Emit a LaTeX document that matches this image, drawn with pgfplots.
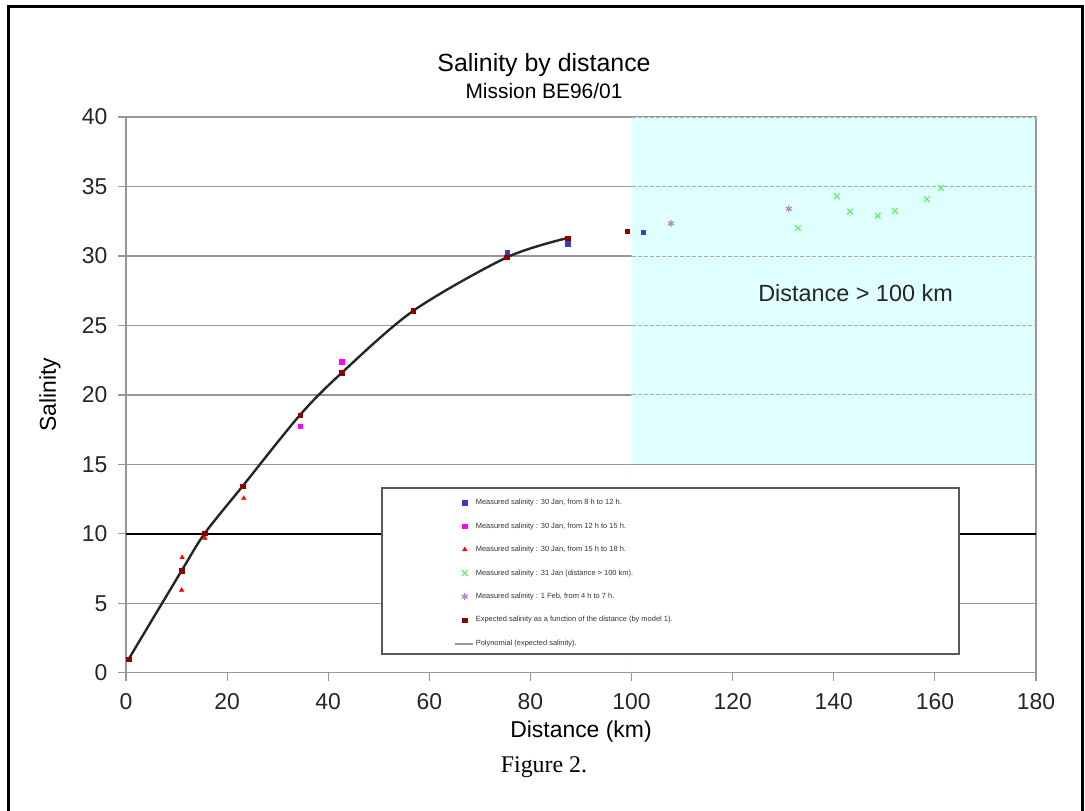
\documentclass[border=0pt]{standalone}
\usepackage{fontspec}
\setmainfont{Liberation Sans}
\newfontfamily\timesfont{Liberation Serif}
\usepackage{pgfplots}
\pgfplotsset{compat=1.18}

\definecolor{gridgray}{RGB}{150,150,150}
\definecolor{cyanbg}{RGB}{224,255,255}
\definecolor{serA}{RGB}{60,60,190}
\definecolor{serB}{RGB}{255,0,255}
\definecolor{serC}{RGB}{255,0,0}
\definecolor{serD}{RGB}{100,240,100}
\definecolor{serE}{RGB}{180,130,210}
\definecolor{serF}{RGB}{140,0,0}

\begin{document}
\begin{tikzpicture}
\useasboundingbox (0,0) rectangle (1085bp,811bp);
\fill[white] (0,0) rectangle (1085bp,811bp);
\draw[line width=3bp] (8.5bp,0) -- (8.5bp,804.5bp) -- (1082.5bp,804.5bp) -- (1082.5bp,0);
\node[font=\fontsize{25}{30}\selectfont] at (544bp,746bp) {Salinity by distance};
\node[font=\fontsize{21}{25}\selectfont] at (544bp,720bp) {Mission BE96/01};
\node[font=\fontsize{23}{27}\selectfont] at (581bp,79bp) {Distance (km)};
\node[font=\fontsize{23}{27}\selectfont, rotate=90] at (50bp,416bp) {Salinity};
\node[font=\timesfont\fontsize{24}{28}\selectfont] at (544bp,44bp) {Figure 2.};
\begin{axis}[
  at={(126bp,138.2bp)}, anchor=south west,
  scale only axis, width=910bp, height=555.7bp,
  xmin=0, xmax=180, ymin=0, ymax=40,
  xtick={0,20,...,180}, ytick={0,5,...,40},
  ymajorgrids, major grid style={gridgray, line width=1.3bp},
  axis line style={gridgray, line width=1.3bp},
  tick style={gridgray, line width=1.2bp},
  tick align=outside, major tick length=8bp,
  xtick pos=left, ytick pos=left,
  tick label style={font=\fontsize{23}{27}\selectfont, text=black!85},
  xticklabel style={yshift=-9bp},
  yticklabel style={xshift=-7bp},
  /pgf/number format/assume math mode=true,
  legend style={at={(axis cs:64.8,12.66)}, anchor=north west, inner sep=0pt,
    draw=none, fill=none, row sep=12.6bp, font=\fontsize{7.5}{9}\selectfont,
    text=black!80},
  legend cell align=left,
  legend image code/.code={\draw[mark repeat=2,mark phase=2,#1] plot coordinates {(0bp,0bp)(4bp,0bp)(8bp,0bp)};},
]
% shaded region beyond 100 km
\addplot[draw=none, fill=cyanbg, forget plot] coordinates {(100,15) (180,15) (180,40) (100,40)} \closedcycle;
\addplot[gridgray, line width=1.3bp, forget plot] coordinates {(100,15) (180,15)};
\addplot[gridgray, line width=1.3bp, forget plot] coordinates {(180,15) (180,40)};
\addplot[gridgray!80, line width=1bp, dash pattern=on 4bp off 2bp, forget plot] coordinates {(100,20) (180,20)};
\addplot[gridgray!80, line width=1bp, dash pattern=on 4bp off 2bp, forget plot] coordinates {(100,25) (180,25)};
\addplot[gridgray!80, line width=1bp, dash pattern=on 4bp off 2bp, forget plot] coordinates {(100,30) (180,30)};
\addplot[gridgray!80, line width=1bp, dash pattern=on 4bp off 2bp, forget plot] coordinates {(100,35) (180,35)};
\addplot[gridgray!80, line width=1bp, dash pattern=on 4bp off 2bp, forget plot] coordinates {(100,40) (180,40)};
% black reference line at 10
\addplot[black, line width=1.5bp, forget plot] coordinates {(0,10) (180,10)};
% polynomial trend (expected salinity)
\addplot[black!85, line width=2.4bp, smooth, tension=0.5, forget plot] coordinates {
 (0.5,0.97) (11.0,7.35) (15.6,10.05) (23.1,13.45) (34.4,18.55) (42.7,21.6) (56.8,26.05) (75.3,29.9) (87.4,31.3)};
% measured series
\addplot[only marks, mark=square*, mark size=2.2bp, color=serA] coordinates {(75.4,30.25) (87.4,30.9) (102.3,31.7)};
\addlegendentry{Measured salinity : 30 Jan, from 8 h to 12 h.}
\addplot[only marks, mark=square*, mark size=2.2bp, color=serB] coordinates {(34.4,17.75) (42.7,22.4)};
\addlegendentry{Measured salinity : 30 Jan, from 12 h to 15 h.}
\addplot[only marks, mark=triangle*, mark size=2.6bp, color=serC] coordinates {(11.1,8.3) (11.0,5.95) (15.6,9.7) (23.3,12.55)};
\addlegendentry{Measured salinity : 30 Jan, from 15 h to 18 h.}
\addplot[only marks, mark=x, mark size=4bp, line width=1.2bp, color=serD] coordinates {(132.9,32.0) (140.6,34.3) (143.2,33.2) (148.7,32.9) (152.1,33.25) (158.4,34.1) (161.2,34.9)};
\addlegendentry{Measured salinity : 31 Jan (distance > 100 km).}
\addplot[only marks, mark=asterisk, mark size=3.5bp, line width=1.2bp, color=serE] coordinates {(131.1,33.4) (107.8,32.35)};
\addlegendentry{Measured salinity : 1 Feb, from 4 h to 7 h.}
\addplot[only marks, mark=square*, mark size=2.2bp, color=serF] coordinates {(0.5,0.97) (11.0,7.35) (15.6,10.05) (23.1,13.45) (34.4,18.55) (42.7,21.6) (56.8,26.05) (75.3,29.9) (87.4,31.3) (99.1,31.8)};
\addlegendentry{Expected salinity as a function of the distance (by model 1).}
\addlegendimage{legend image code/.code={\draw[gray!80, line width=2bp] (-6bp,0bp) -- (12bp,0bp);}}
\addlegendentry{Polynomial (expected salinity).}
% legend frame
\draw[gray!70!black, line width=1.5bp, fill=white] (axis cs:50.6,1.35) rectangle (axis cs:164.8,13.3);
\node[font=\fontsize{23.5}{28}\selectfont, text=black!85] at (axis cs:144.3,27.35) {Distance > 100 km};
\end{axis}
\end{tikzpicture}
\end{document}
